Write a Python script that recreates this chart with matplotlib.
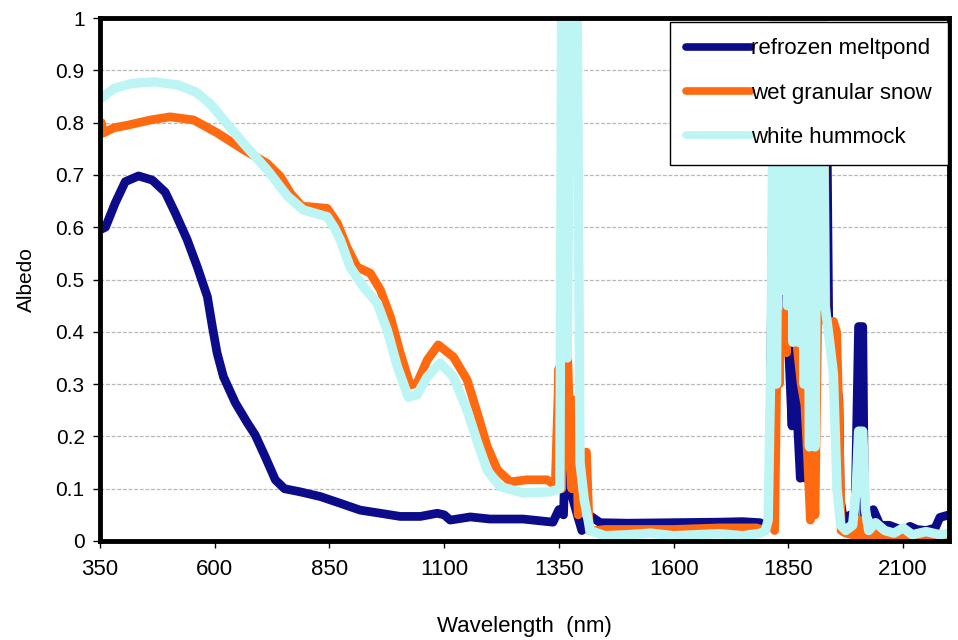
import matplotlib
matplotlib.use("Agg")
import matplotlib.pyplot as plt
from matplotlib.lines import Line2D

# ---------------- data ----------------
meltpond_wl = [350, 362, 383, 405, 434, 464, 492, 514, 540, 562, 584, 595, 605, 619, 645,
               671, 688, 710, 732, 752, 786, 830, 874, 917, 961, 1004, 1048, 1085, 1100,
               1113, 1157, 1200, 1272, 1337, 1350, 1360, 1368, 1374, 1390, 1400, 1415,
               1440, 1500, 1600, 1700, 1750, 1788, 1800, 1808, 1815, 1830, 1852, 1858,
               1862, 1868, 1876, 1882, 1887, 1892, 1910, 1933, 1938, 1955, 1960, 1963,
               1970, 1985, 1995, 2003, 2012, 2016, 2020, 2035, 2050, 2070, 2085, 2100,
               2115, 2130, 2150, 2170, 2180, 2200]
meltpond_val = [0.595, 0.60, 0.646, 0.687, 0.698, 0.69, 0.667, 0.627, 0.576, 0.524, 0.467,
                0.409, 0.36, 0.314, 0.264, 0.226, 0.203, 0.161, 0.117, 0.10, 0.094, 0.085,
                0.072, 0.059, 0.053, 0.047, 0.047, 0.053, 0.05, 0.04, 0.046, 0.042, 0.042,
                0.036, 0.06, 0.05, 0.30, 0.10, 0.05, 0.02, 0.05, 0.035, 0.034, 0.035,
                0.036, 0.037, 0.035, 0.03, 0.04, 0.6, 0.8, 0.34, 0.22, 0.5, 0.26, 0.12,
                0.26, 0.12, 0.5, 0.7, 0.9, 0.40, 0.30, 0.27, 0.08, 0.04, 0.05, 0.04,
                0.41, 0.41, 0.04, 0.05, 0.06, 0.03, 0.03, 0.025, 0.02, 0.028, 0.022,
                0.02, 0.025, 0.045, 0.05]

snow_wl = [350, 353, 357, 380, 410, 460, 503, 554, 606, 663, 714, 743, 765, 790, 808, 845,
           867, 888, 910, 939, 961, 983, 1004, 1026, 1041, 1063, 1087, 1120, 1150, 1172,
           1194, 1216, 1244, 1280, 1324, 1342, 1350, 1356, 1368, 1378, 1386, 1392, 1410,
           1416, 1430, 1450, 1600, 1700, 1780, 1800, 1812, 1820, 1826, 1830, 1834, 1840,
           1846, 1852, 1866, 1870, 1878, 1886, 1892, 1898, 1903, 1908, 1915, 1924, 1928,
           1932, 1940, 1948, 1955, 1960, 1965, 1975, 2000, 2004, 2010, 2030, 2034, 2040,
           2100, 2150, 2200]
snow_val = [0.78, 0.80, 0.78, 0.79, 0.795, 0.805, 0.811, 0.805, 0.78, 0.748, 0.722, 0.697,
            0.665, 0.64, 0.639, 0.636, 0.608, 0.562, 0.524, 0.512, 0.48, 0.428, 0.36, 0.298,
            0.302, 0.346, 0.375, 0.352, 0.308, 0.245, 0.18, 0.136, 0.113, 0.117, 0.117,
            0.107, 0.33, 0.10, 0.38, 0.10, 0.27, 0.05, 0.17, 0.02, 0.02, 0.022, 0.022,
            0.025, 0.025, 0.02, 0.05, 0.02, 0.40, 0.30, 0.435, 0.40, 0.36, 0.6, 0.5, 0.365,
            0.30, 0.26, 0.16, 0.04, 0.15, 0.05, 0.5, 0.95, 0.8, 0.42, 0.40, 0.42, 0.40,
            0.245, 0.02, 0.015, 0.01, 0.04, 0.01, 0.01, 0.025, 0.01, 0.01, 0.01, 0.008]

hummock_wl = [350, 380, 420, 470, 520, 560, 591, 663, 714, 758, 793, 845, 860, 874, 895,
              924, 954, 976, 998, 1022, 1041, 1063, 1091, 1120, 1150, 1172, 1194, 1222,
              1272, 1331, 1352, 1356, 1364, 1368, 1374, 1390, 1396, 1405, 1418, 1450,
              1500, 1550, 1600, 1650, 1700, 1750, 1790, 1800, 1806, 1812, 1818, 1824,
              1830, 1836, 1842, 1848, 1854, 1860, 1866, 1872, 1878, 1884, 1890, 1896,
              1902, 1908, 1914, 1920, 1925, 1930, 1940, 1948, 1956, 1964, 1975, 1990,
              1998, 2003, 2012, 2018, 2025, 2040, 2060, 2080, 2100, 2120, 2150, 2180, 2200]
hummock_val = [0.845, 0.865, 0.875, 0.878, 0.872, 0.858, 0.835, 0.76, 0.71, 0.66, 0.633,
               0.62, 0.60, 0.575, 0.524, 0.486, 0.455, 0.403, 0.333, 0.275, 0.28, 0.314,
               0.34, 0.314, 0.25, 0.19, 0.135, 0.104, 0.092, 0.094, 0.10, 1.0, 1.0, 0.35,
               1.0, 1.0, 0.15, 0.08, 0.02, 0.01, 0.012, 0.015, 0.01, 0.012, 0.014, 0.01,
               0.015, 0.02, 0.04, 0.35, 1.0, 0.30, 1.0, 0.48, 1.0, 0.45, 1.0, 0.38, 1.0,
               0.38, 1.0, 0.30, 1.0, 0.18, 1.0, 0.18, 1.0, 0.45, 1.0, 0.45, 0.38, 0.32,
               0.10, 0.03, 0.02, 0.03, 0.10, 0.21, 0.21, 0.06, 0.02, 0.035, 0.02, 0.015,
               0.025, 0.012, 0.018, 0.012, 0.015]

series_labels = ["refrozen meltpond", "wet granular snow", "white hummock"]
series_colors = ["#0c0c8a", "#ff6a10", "#bdf5f5"]
series_widths = [6.3, 6.3, 6.8]

x_ticks = [350, 600, 850, 1100, 1350, 1600, 1850, 2100]
y_ticks = [0, 0.1, 0.2, 0.3, 0.4, 0.5, 0.6, 0.7, 0.8, 0.9, 1]
y_tick_labels = ["0", "0.1", "0.2", "0.3", "0.4", "0.5", "0.6", "0.7", "0.8", "0.9", "1"]

# ---------------- figure ----------------
plt.rcParams["font.family"] = ["Liberation Sans", "DejaVu Sans"]
fig = plt.figure(figsize=(9.58, 6.4), dpi=100)
ax = fig.add_axes([100 / 958, (640 - 541) / 640, 849 / 958, 523 / 640])

series = [(meltpond_wl, meltpond_val), (snow_wl, snow_val), (hummock_wl, hummock_val)]
for i, (wl, val) in enumerate(series):
    ax.plot(wl, val, color=series_colors[i], lw=series_widths[i],
            solid_joinstyle="round", solid_capstyle="round", zorder=3 + i)

ax.set_xlim(350, 2200)
ax.set_ylim(0, 1)
ax.set_xticks(x_ticks)
ax.set_xticklabels([str(t) for t in x_ticks], fontsize=16)
ax.set_yticks(y_ticks)
ax.set_yticklabels(y_tick_labels, fontsize=15)
ax.tick_params(axis="x", direction="out", length=5, width=1, color="black", pad=8)
ax.tick_params(axis="y", direction="out", length=5, width=1, color="black", pad=6)

ax.set_axisbelow(True)
ax.yaxis.grid(True, color="#b8b8b8", lw=0.9, linestyle=(0, (3, 1.5)))
ax.xaxis.grid(False)

for s in ax.spines.values():
    s.set_linewidth(3.5)
    s.set_color("black")
    s.set_zorder(6)

ax.set_xlabel("Wavelength  (nm)", fontsize=16, labelpad=26)
ax.set_ylabel("Albedo", fontsize=15, labelpad=14)

handles = [Line2D([], [], color=c, lw=5.5, solid_capstyle="round") for c in series_colors]
leg = ax.legend(handles, series_labels, loc="upper right", bbox_to_anchor=(0.999, 0.993),
                borderaxespad=0, fontsize=16, frameon=True, fancybox=False,
                handlelength=2.9, handletextpad=0.0, labelspacing=1.05, borderpad=0.75)
leg.get_frame().set_edgecolor("black")
leg.get_frame().set_linewidth(1.0)
leg.get_frame().set_alpha(1)
leg.set_zorder(10)

fig.savefig("out.png", dpi=100)
